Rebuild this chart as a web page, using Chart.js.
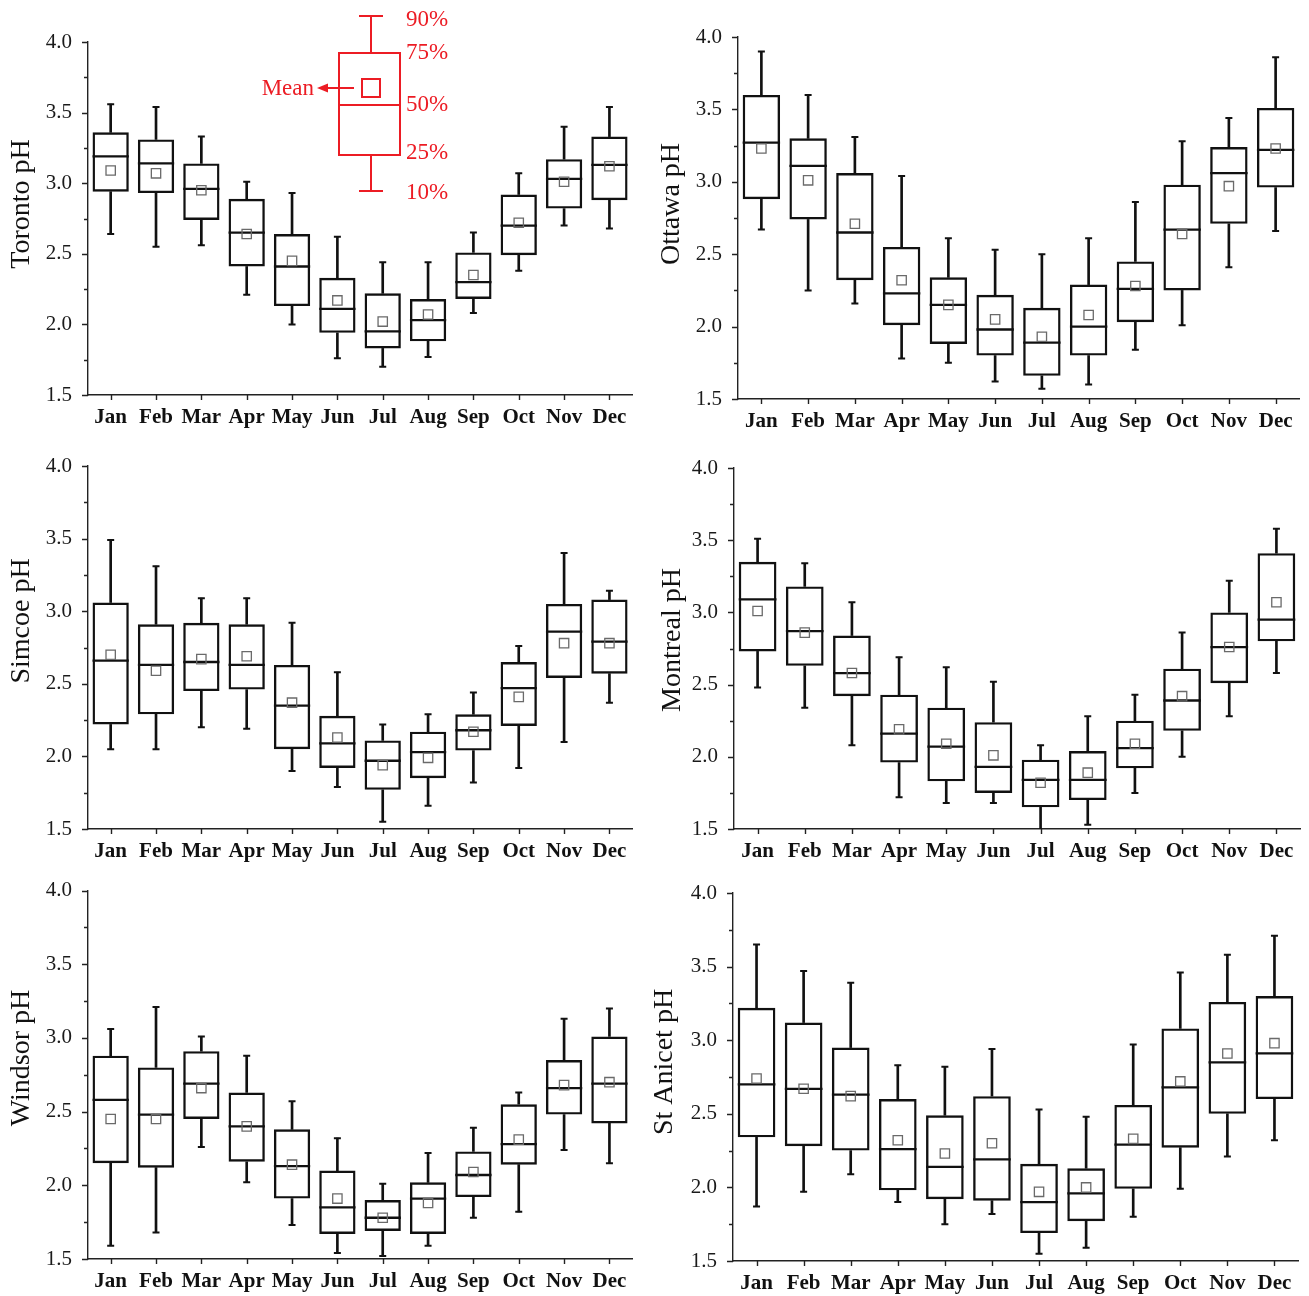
<!DOCTYPE html>
<html>
<head>
<meta charset="utf-8">
<title>Monthly pH box plots</title>
<script src="https://cdn.jsdelivr.net/npm/chart.js@4/dist/chart.umd.min.js"></script>
<style>
  html, body { margin: 0; padding: 0; background: #ffffff; }
  #wrap { position: relative; width: 1309px; height: 1296px; overflow: hidden; background: #ffffff; }
  #wrap canvas { position: absolute; }
</style>
</head>
<body>
<div id="wrap">
  <canvas id="toronto"  width="640" height="440" style="left:0px;top:0px;width:640px;height:440px"></canvas>
  <canvas id="ottawa"   width="669" height="440" style="left:640px;top:0px;width:669px;height:440px"></canvas>
  <canvas id="simcoe"   width="640" height="430" style="left:0px;top:440px;width:640px;height:430px"></canvas>
  <canvas id="montreal" width="669" height="430" style="left:640px;top:440px;width:669px;height:430px"></canvas>
  <canvas id="windsor"  width="640" height="426" style="left:0px;top:870px;width:640px;height:426px"></canvas>
  <canvas id="stanicet" width="669" height="426" style="left:640px;top:870px;width:669px;height:426px"></canvas>
</div>
<script>
// ---- categories and axis ticks ----
const months = ['Jan', 'Feb', 'Mar', 'Apr', 'May', 'Jun', 'Jul', 'Aug', 'Sep', 'Oct', 'Nov', 'Dec'];
const yTicks = [1.5, 2.0, 2.5, 3.0, 3.5, 4.0];

// ---- Toronto: 10th, 25th, 50th, 75th, 90th percentiles and mean ----
const torontoP10  = [2.64, 2.55, 2.56, 2.21, 2.00, 1.76, 1.70, 1.77, 2.08, 2.38, 2.70, 2.68];
const torontoQ1   = [2.94, 2.93, 2.74, 2.41, 2.13, 1.94, 1.83, 1.88, 2.18, 2.49, 2.82, 2.88];
const torontoMed  = [3.19, 3.14, 2.96, 2.65, 2.41, 2.11, 1.95, 2.03, 2.30, 2.70, 3.03, 3.13];
const torontoQ3   = [3.36, 3.31, 3.14, 2.89, 2.64, 2.33, 2.22, 2.18, 2.51, 2.92, 3.17, 3.33];
const torontoP90  = [3.56, 3.54, 3.33, 3.01, 2.93, 2.62, 2.44, 2.44, 2.65, 3.07, 3.40, 3.54];
const torontoMean = [3.09, 3.07, 2.95, 2.64, 2.45, 2.17, 2.02, 2.07, 2.35, 2.72, 3.01, 3.12];

// ---- Ottawa ----
const ottawaP10  = [2.67, 2.25, 2.16, 1.78, 1.75, 1.62, 1.57, 1.60, 1.84, 2.01, 2.41, 2.66];
const ottawaQ1   = [2.88, 2.74, 2.32, 2.01, 1.88, 1.80, 1.66, 1.80, 2.03, 2.25, 2.71, 2.96];
const ottawaMed  = [3.27, 3.11, 2.65, 2.23, 2.15, 1.98, 1.89, 2.00, 2.26, 2.67, 3.06, 3.22];
const ottawaQ3   = [3.60, 3.30, 3.06, 2.55, 2.34, 2.22, 2.13, 2.29, 2.45, 2.98, 3.24, 3.51];
const ottawaP90  = [3.90, 3.60, 3.31, 3.04, 2.61, 2.53, 2.50, 2.61, 2.86, 3.28, 3.44, 3.86];
const ottawaMean = [3.23, 3.01, 2.71, 2.32, 2.15, 2.05, 1.93, 2.08, 2.28, 2.64, 2.97, 3.23];

// ---- Simcoe ----
const simcoeP10  = [2.05, 2.05, 2.20, 2.19, 1.90, 1.79, 1.55, 1.66, 1.82, 1.92, 2.10, 2.37];
const simcoeQ1   = [2.22, 2.29, 2.45, 2.46, 2.05, 1.92, 1.77, 1.85, 2.04, 2.21, 2.54, 2.57];
const simcoeMed  = [2.66, 2.63, 2.65, 2.63, 2.35, 2.09, 1.97, 2.03, 2.18, 2.47, 2.86, 2.79];
const simcoeQ3   = [3.06, 2.91, 2.92, 2.91, 2.63, 2.28, 2.11, 2.17, 2.29, 2.65, 3.05, 3.08];
const simcoeP90  = [3.49, 3.31, 3.09, 3.09, 2.92, 2.58, 2.22, 2.29, 2.44, 2.76, 3.40, 3.14];
const simcoeMean = [2.70, 2.59, 2.67, 2.69, 2.37, 2.13, 1.94, 1.99, 2.17, 2.41, 2.78, 2.78];

// ---- Montreal ----
const montrealP10  = [2.48, 2.34, 2.08, 1.72, 1.68, 1.68, 1.48, 1.53, 1.75, 2.00, 2.28, 2.58];
const montrealQ1   = [2.73, 2.63, 2.42, 1.96, 1.83, 1.75, 1.65, 1.70, 1.92, 2.18, 2.51, 2.80];
const montrealMed  = [3.09, 2.87, 2.58, 2.16, 2.07, 1.93, 1.84, 1.84, 2.06, 2.39, 2.76, 2.95];
const montrealQ3   = [3.35, 3.18, 2.84, 2.43, 2.34, 2.24, 1.98, 2.04, 2.25, 2.61, 3.00, 3.41];
const montrealP90  = [3.51, 3.34, 3.07, 2.69, 2.62, 2.52, 2.08, 2.28, 2.43, 2.86, 3.22, 3.58];
const montrealMean = [3.01, 2.86, 2.58, 2.19, 2.09, 2.01, 1.82, 1.89, 2.09, 2.42, 2.76, 3.07];

// ---- Windsor ----
const windsorP10  = [1.59, 1.68, 2.26, 2.02, 1.73, 1.54, 1.52, 1.59, 1.78, 1.82, 2.24, 2.15];
const windsorQ1   = [2.15, 2.12, 2.45, 2.16, 1.91, 1.67, 1.69, 1.67, 1.92, 2.14, 2.48, 2.42];
const windsorMed  = [2.58, 2.48, 2.69, 2.40, 2.13, 1.85, 1.78, 1.91, 2.07, 2.28, 2.66, 2.69];
const windsorQ3   = [2.88, 2.80, 2.91, 2.63, 2.38, 2.10, 1.90, 2.02, 2.23, 2.55, 2.85, 3.01];
const windsorP90  = [3.06, 3.21, 3.01, 2.88, 2.57, 2.32, 2.01, 2.22, 2.39, 2.63, 3.13, 3.20];
const windsorMean = [2.45, 2.45, 2.66, 2.40, 2.14, 1.91, 1.78, 1.88, 2.09, 2.31, 2.68, 2.70];

// ---- St Anicet ----
const stAnicetP10  = [1.87, 1.97, 2.09, 1.90, 1.75, 1.82, 1.55, 1.59, 1.80, 1.99, 2.21, 2.32];
const stAnicetQ1   = [2.34, 2.28, 2.25, 1.98, 1.92, 1.91, 1.69, 1.77, 1.99, 2.27, 2.50, 2.60];
const stAnicetMed  = [2.70, 2.67, 2.63, 2.26, 2.14, 2.19, 1.90, 1.96, 2.29, 2.68, 2.85, 2.91];
const stAnicetQ3   = [3.22, 3.12, 2.95, 2.60, 2.49, 2.62, 2.16, 2.13, 2.56, 3.08, 3.26, 3.30];
const stAnicetP90  = [3.65, 3.47, 3.39, 2.83, 2.82, 2.94, 2.53, 2.48, 2.97, 3.46, 3.58, 3.71];
const stAnicetMean = [2.74, 2.67, 2.62, 2.32, 2.23, 2.30, 1.97, 2.00, 2.33, 2.72, 2.91, 2.98];

// ---- shared styling ----
const SERIF = "'Liberation Serif', 'Times New Roman', Times, serif";
const INK = '#111111';
const KEY_RED = '#ec1c24';
Chart.defaults.font.family = SERIF;

// Outward tick marks: major ticks on the y labels, minor ticks halfway, and one tick per month
const axisTicks = {
  id: 'axisTicks',
  afterDraw(chart) {
    const { ctx, chartArea, scales: { x, y } } = chart;
    ctx.save();
    ctx.strokeStyle = '#222222';
    ctx.lineWidth = 1.4;
    ctx.beginPath();
    y.ticks.forEach((t, i) => {
      const py = Math.round(y.getPixelForValue(t.value)) + 0.5;
      ctx.moveTo(chartArea.left - 6, py);
      ctx.lineTo(chartArea.left, py);
      if (i < y.ticks.length - 1) {
        const my = Math.round(y.getPixelForValue((t.value + y.ticks[i + 1].value) / 2)) + 0.5;
        ctx.moveTo(chartArea.left - 4, my);
        ctx.lineTo(chartArea.left, my);
      }
    });
    months.forEach((m, i) => {
      const px = Math.round(x.getPixelForValue(i)) + 0.5;
      ctx.moveTo(px, chartArea.bottom);
      ctx.lineTo(px, chartArea.bottom + 5);
    });
    ctx.stroke();
    ctx.restore();
  }
};

// Rotated y-axis title placed at a chosen centre inside the axis strip
const sideTitle = {
  id: 'sideTitle',
  afterDraw(chart, args, opts) {
    const { ctx } = chart;
    ctx.save();
    ctx.translate(opts.x, opts.y);
    ctx.rotate(-Math.PI / 2);
    ctx.textAlign = 'center';
    ctx.textBaseline = 'middle';
    ctx.font = '28px ' + SERIF;
    ctx.fillStyle = INK;
    ctx.fillText(opts.text, 0, 0);
    ctx.restore();
  }
};

// Red key explaining the box elements, drawn above the first panel
const boxKey = {
  id: 'boxKey',
  afterDraw(chart) {
    const { ctx, chartArea } = chart;
    const L = chartArea.left, T = chartArea.top;
    const bx0 = L + 251, bx1 = L + 312, cx = L + 283;
    const yTop = T - 26, yQ3 = T + 11, yMed = T + 63, yQ1 = T + 113, yBot = T + 149;
    ctx.save();
    ctx.strokeStyle = KEY_RED;
    ctx.fillStyle = KEY_RED;
    ctx.lineWidth = 2;
    ctx.beginPath();
    // whiskers and caps
    ctx.moveTo(cx, yTop); ctx.lineTo(cx, yQ3);
    ctx.moveTo(cx - 12, yTop); ctx.lineTo(cx + 12, yTop);
    ctx.moveTo(cx, yQ1); ctx.lineTo(cx, yBot);
    ctx.moveTo(cx - 12, yBot); ctx.lineTo(cx + 12, yBot);
    // box and median
    ctx.rect(bx0, yQ3, bx1 - bx0, yQ1 - yQ3);
    ctx.moveTo(bx0, yMed); ctx.lineTo(bx1, yMed);
    // mean square
    const my = T + 46;
    ctx.rect(cx - 9, my - 9, 18, 18);
    // pointer line
    ctx.moveTo(cx - 17, my); ctx.lineTo(L + 238, my);
    ctx.stroke();
    ctx.beginPath();
    ctx.moveTo(L + 229, my);
    ctx.lineTo(L + 240, my - 4.5);
    ctx.lineTo(L + 240, my + 4.5);
    ctx.closePath();
    ctx.fill();
    ctx.font = '23px ' + SERIF;
    ctx.textBaseline = 'middle';
    ctx.textAlign = 'right';
    ctx.fillText('Mean', L + 226, my + 1);
    ctx.textAlign = 'left';
    const tx = L + 318;
    ctx.fillText('90%', tx, T - 22);
    ctx.fillText('75%', tx, T + 11);
    ctx.fillText('50%', tx, T + 63);
    ctx.fillText('25%', tx, T + 111);
    ctx.fillText('10%', tx, T + 151);
    ctx.restore();
  }
};

function boxChart(id, title, p10, q1, med, q3, p90, mean, frame, extraPlugins) {
  const boxes = months.map((m, i) => [q1[i], q3[i]]);
  const upper = months.map((m, i) => [q3[i], p90[i]]);
  const lower = months.map((m, i) => [p10[i], q1[i]]);
  const halfBox = (c) => c.chart.scales.x.width / months.length * 0.4;

  return new Chart(document.getElementById(id), {
    type: 'bar',
    data: {
      labels: months,
      datasets: [
        { // mean marker
          type: 'line', data: mean, showLine: false,
          pointStyle: 'rect', pointRadius: 6.6, pointHoverRadius: 6.6,
          pointBorderColor: '#6a6a6a', pointBackgroundColor: 'rgba(0,0,0,0)', pointBorderWidth: 1.3
        },
        { // median line
          type: 'line', data: med, showLine: false,
          pointStyle: 'line', pointRadius: halfBox, pointHoverRadius: halfBox,
          pointBorderColor: INK, pointBorderWidth: 2.3
        },
        { // 90th percentile cap
          type: 'line', data: p90, showLine: false,
          pointStyle: 'line', pointRadius: 3.5, pointHoverRadius: 3.5,
          pointBorderColor: INK, pointBorderWidth: 2
        },
        { // 10th percentile cap
          type: 'line', data: p10, showLine: false,
          pointStyle: 'line', pointRadius: 3.5, pointHoverRadius: 3.5,
          pointBorderColor: INK, pointBorderWidth: 2
        },
        { // upper whisker
          data: upper, grouped: false, barThickness: 2,
          backgroundColor: INK, borderWidth: 0
        },
        { // lower whisker
          data: lower, grouped: false, barThickness: 2,
          backgroundColor: INK, borderWidth: 0
        },
        { // interquartile box
          data: boxes, grouped: false, barPercentage: 0.8, categoryPercentage: 1.0,
          backgroundColor: 'rgba(0,0,0,0)', borderColor: INK, borderWidth: 2.4, borderSkipped: false
        }
      ]
    },
    options: {
      responsive: false,
      animation: false,
      events: [],
      layout: { padding: { top: frame.top, right: frame.right, left: 0, bottom: 0 } },
      plugins: {
        legend: { display: false },
        tooltip: { enabled: false },
        sideTitle: { text: title, x: frame.titleX, y: frame.titleY }
      },
      scales: {
        x: {
          type: 'category',
          offset: true,
          grid: { display: false },
          border: { display: true, color: '#222222', width: 1.4 },
          ticks: {
            color: INK, padding: 2, autoSkip: false, maxRotation: 0,
            font: { family: SERIF, size: 21, weight: 'bold' }
          },
          afterFit: (s) => { s.height = frame.xH; }
        },
        y: {
          type: 'linear',
          min: yTicks[0],
          max: yTicks[yTicks.length - 1],
          afterBuildTicks: (s) => { s.ticks = yTicks.map(v => ({ value: v })); },
          grid: { display: false },
          border: { display: true, color: '#222222', width: 1.4 },
          ticks: {
            color: '#1a1a1a', padding: 8,
            font: { family: SERIF, size: 21 },
            callback: (v) => Number(v).toFixed(1)
          },
          title: { display: false },
          afterFit: (s) => { s.width = frame.yW; }
        }
      }
    },
    plugins: [axisTicks, sideTitle].concat(extraPlugins || [])
  });
}

boxChart('toronto', 'Toronto pH', torontoP10, torontoQ1, torontoMed, torontoQ3, torontoP90, torontoMean,
  { top: 42, right: 6, yW: 88, xH: 45, titleX: 22, titleY: 204 }, [boxKey]);
boxChart('ottawa', 'Ottawa pH', ottawaP10, ottawaQ1, ottawaMed, ottawaQ3, ottawaP90, ottawaMean,
  { top: 37, right: 10, yW: 98, xH: 41, titleX: 32, titleY: 204 });
boxChart('simcoe', 'Simcoe pH', simcoeP10, simcoeQ1, simcoeMed, simcoeQ3, simcoeP90, simcoeMean,
  { top: 26, right: 4, yW: 88, xH: 41, titleX: 22, titleY: 181 });
boxChart('montreal', 'Montreal pH', montrealP10, montrealQ1, montrealMed, montrealQ3, montrealP90, montrealMean,
  { top: 28, right: 9, yW: 94, xH: 41, titleX: 33, titleY: 200 });
boxChart('windsor', 'Windsor pH', windsorP10, windsorQ1, windsorMed, windsorQ3, windsorP90, windsorMean,
  { top: 17, right: 4, yW: 88, xH: 37, titleX: 22, titleY: 188 });
boxChart('stanicet', 'St Anicet pH', stAnicetP10, stAnicetQ1, stAnicetMed, stAnicetQ3, stAnicetP90, stAnicetMean,
  { top: 23, right: 11, yW: 93, xH: 35, titleX: 25, titleY: 192 });
</script>
</body>
</html>
